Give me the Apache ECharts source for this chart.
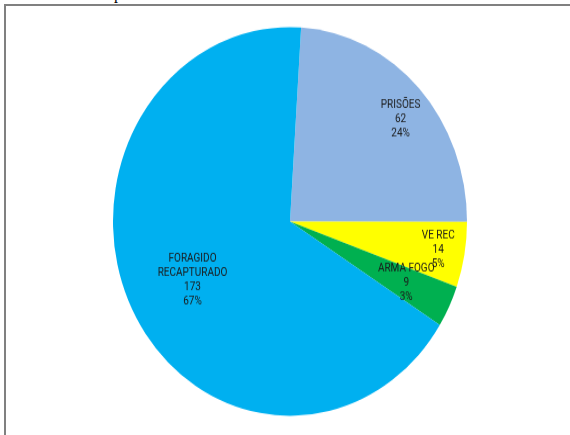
<!DOCTYPE html>
<html>
<head>
<meta charset="utf-8">
<script src="https://cdn.jsdelivr.net/npm/echarts@6/dist/echarts.min.js"></script>
<style>
  html, body { margin: 0; padding: 0; background: #fff; }
  #wrap { position: relative; width: 570px; height: 435px; overflow: hidden; background: #fff; }
  #frame { position: absolute; left: 4px; top: 4px; width: 600px; height: 500px;
           border-left: 2px solid #808080; border-top: 2px solid #808080; box-sizing: border-box; }
  #cut { position: absolute; left: 114px; top: -13.9px; font-family: 'Liberation Serif', serif;
         font-size: 16px; line-height: 16px; color: #000; }
  #chart { position: absolute; left: 0; top: 0; width: 570px; height: 435px;
           transform-origin: 290px 221.4px; transform: scaleY(1.098); }
</style>
</head>
<body>
<div id="wrap">
  <div id="cut">p</div>
  <div id="frame"></div>
  <div id="chart"></div>
</div>
<script>
// Data (clockwise from the top)
const categories = ['PRISÕES', 'VE REC', 'ARMA FOGO', 'FORAGIDO\nRECAPTURADO'];
const values = [62, 14, 9, 173];
const colors = ['#8EB4E3', '#FFFF00', '#00B050', '#00B0F0'];
// label distance from centre (fraction of radius) and small nudges (px)
const labelRadius = [0.81, 0.85, 0.73, 0.625];
const labelNudge = [[6, 5.5], [0, 0], [0, 0], [1, 3.6]];

const CX = 290, CY = 221.4, R = 177, START = 86.4;
const total = values.reduce((a, b) => a + b, 0);

function midAngle(i) {
  let acc = 0;
  for (let k = 0; k < i; k++) acc += values[k];
  const a0 = (90 - START) + acc / total * 360;
  return (a0 + values[i] / total * 180) * Math.PI / 180;
}

const chart = echarts.init(document.getElementById('chart'), null, { renderer: 'canvas' });
chart.setOption({
  animation: false,
  series: [{
    type: 'pie',
    center: [CX, CY],
    radius: R,
    startAngle: START,
    clockwise: true,
    avoidLabelOverlap: false,
    emphasis: { disabled: true },
    itemStyle: { borderWidth: 0 },
    label: {
      show: true,
      position: 'inside',
      fontFamily: 'Roboto',
      fontSize: 10,
      lineHeight: 13,
      color: '#1a1a1a',
      align: 'center',
      formatter: p => p.name + '\n' + p.value + '\n' + Math.round(p.value / total * 100) + '%'
    },
    labelLine: { show: false },
    labelLayout: function (p) {
      const i = p.dataIndex;
      const a = midAngle(i);
      const f = labelRadius[i] * R;
      return {
        x: CX + Math.sin(a) * f + labelNudge[i][0],
        y: CY - Math.cos(a) * f + labelNudge[i][1],
        align: 'center', verticalAlign: 'middle'
      };
    },
    data: categories.map((c, i) => ({ name: c, value: values[i], itemStyle: { color: colors[i] } }))
  }]
});
</script>
</body>
</html>
